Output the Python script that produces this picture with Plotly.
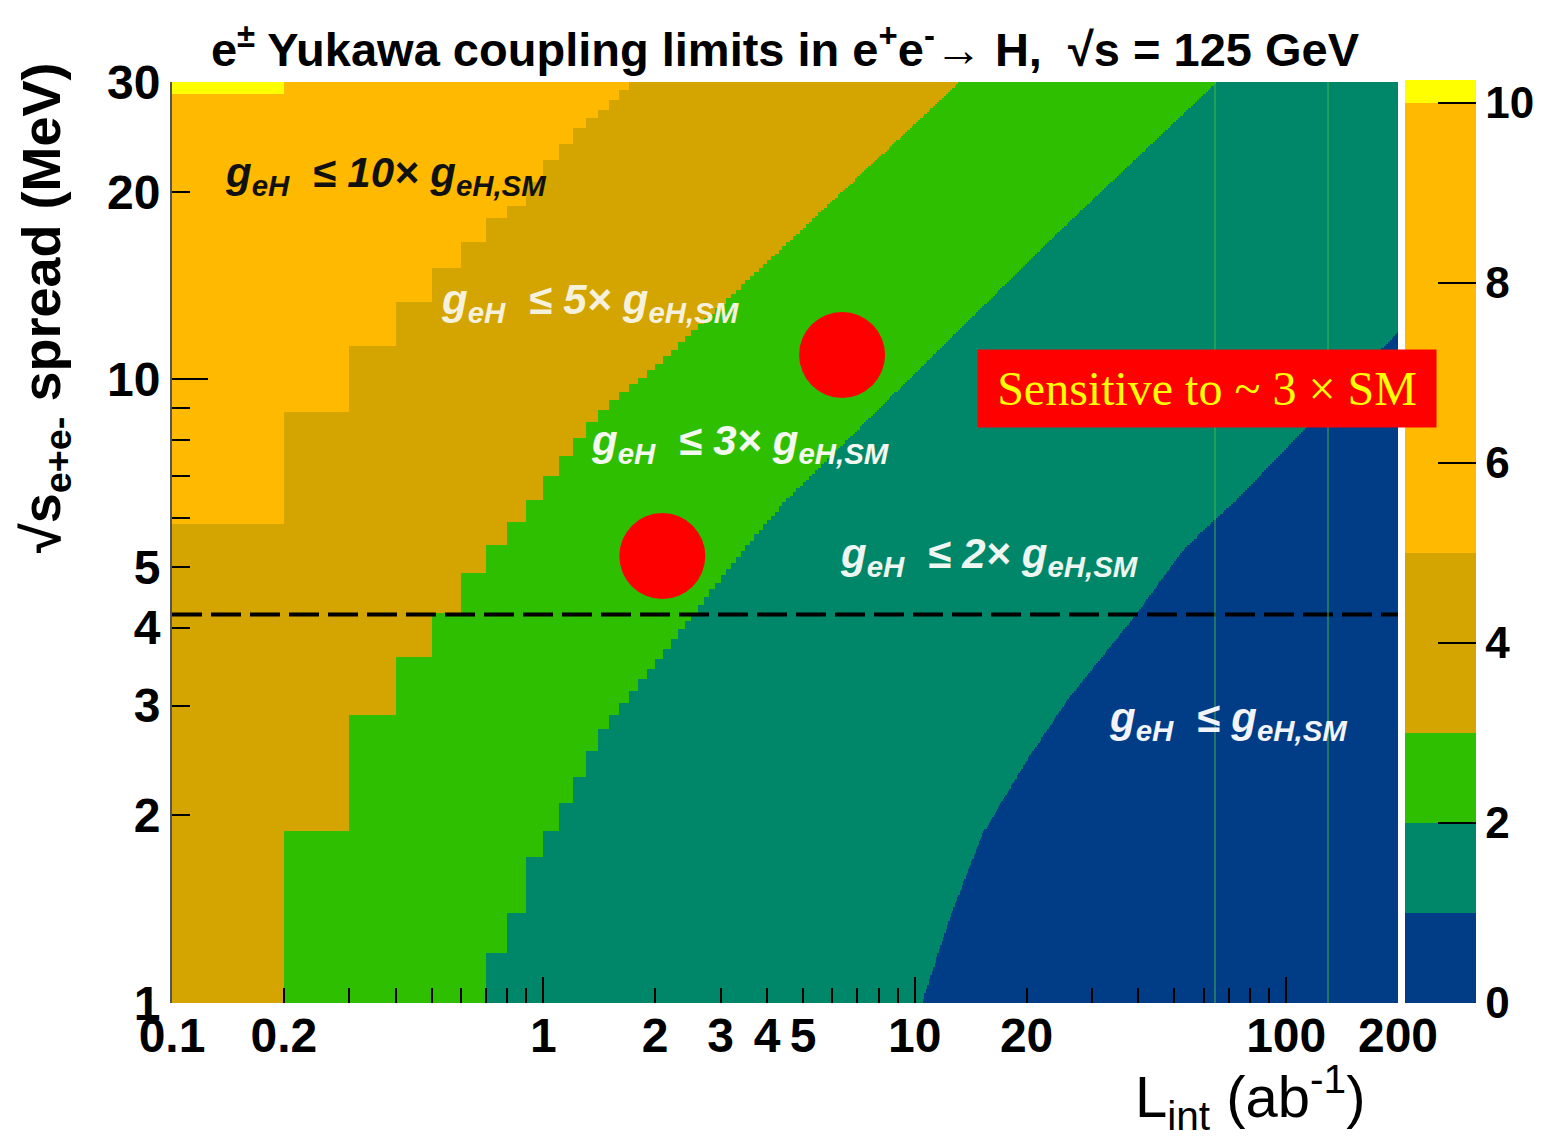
import numpy as np
import plotly.graph_objects as go

# ---------------- data ----------------
# boundary curves (L_int in ab^-1, sqrt(s) spread in MeV) for g_eH / g_eH,SM levels
lev1_L = [10.45, 12.44, 15.26, 20.05, 25.7, 39.6, 52.7, 73.7, 200.0]
lev1_S = [1.0, 1.374, 1.874, 2.454, 3.06, 4.22, 5.33, 6.41, 11.9]

lev2_L = [0.75, 0.85, 0.95, 1.05, 1.15, 1.25, 1.42, 2.06, 3.45, 4.53, 23.1, 31.5, 65.1]
lev2_S = [1.20, 1.39, 1.71, 1.895, 2.10, 2.30, 2.71, 3.59, 5.33, 6.41, 16.7, 19.9, 30.0]

lev3_L = [0.25, 0.35, 0.45, 0.55, 0.65, 0.75, 0.85, 0.95, 1.2, 1.42, 2.06, 13.2]
lev3_S = [1.895, 2.897, 3.59, 4.22, 4.91, 5.43, 5.91, 6.41, 7.79, 8.84, 10.63, 30.0]

lev5_L = [0.15, 0.25, 0.35, 0.45, 0.55, 0.65, 0.75, 0.85, 1.0, 1.255, 1.42, 1.75, 1.85]
lev5_S = [5.84, 8.87, 11.28, 13.3, 15.1, 16.6, 18.2, 18.9, 21.7, 25.4, 26.8, 30.0, 31.5]

lev10_L = [0.15, 0.2]
lev10_S = [28.8, 40.0]

region_values = [0.5, 1.5, 2.5, 4.0, 7.5, 10.1]   # value shown in each band
band_edges = [0, 1, 2, 3, 5, 10, 10.25]
band_colors = ["#003d86", "#00876a", "#2ebf00", "#d4a500", "#ffba00", "#ffff00"]

beam_spread_line = 4.2          # MeV, dashed line
red_dots_L = [6.37, 2.09]
red_dots_S = [10.95, 5.21]
seam_L = [64.3, 129.6]

x_tickvals = [0.1, 0.2, 1, 2, 3, 4, 5, 10, 20, 100, 200]
x_ticktext = ["0.1", "0.2", "1", "2", "3", "4", "5", "10", "20", "100", "200"]
x_minor = [0.3, 0.4, 0.5, 0.6, 0.7, 0.8, 0.9, 6, 7, 8, 9, 30, 40, 50, 60, 70, 80, 90]
x_major_long = [1, 10, 100]
y_tickvals = [1, 2, 3, 4, 5, 10, 20, 30]
y_ticktext = ["1", "2", "3", "4", "5", "10", "20", "30"]
y_minor = [6, 7, 8, 9]
y_major_long = [10]
cb_ticks = [0, 2, 4, 6, 8, 10]

# ---------------- grid ----------------
L_edges = np.concatenate([np.arange(1, 200) * 0.1, np.logspace(np.log10(20), np.log10(200), 401)])
Lc = 0.5 * (L_edges[:-1] + L_edges[1:])
S_edges = np.logspace(0, np.log10(30), 461)
Sc = np.sqrt(S_edges[:-1] * S_edges[1:])


def boundary(Ls, Ss):
    return 10 ** np.interp(np.log10(Lc), np.log10(Ls), np.log10(Ss), left=-np.inf, right=np.inf)


B = [boundary(lev1_L, lev1_S), boundary(lev2_L, lev2_S), boundary(lev3_L, lev3_S),
     boundary(lev5_L, lev5_S), boundary(lev10_L, lev10_S)]
SS = Sc[:, None]
conds = [SS < b[None, :] for b in B]
z = np.select(conds, region_values[:5], default=region_values[5])

zmax = band_edges[-1]
cscale = []
for i, c in enumerate(band_colors):
    cscale.append([band_edges[i] / zmax, c])
    cscale.append([band_edges[i + 1] / zmax, c])

FONT = "Liberation Sans, Arial, Helvetica, sans-serif"

fig = go.Figure()
fig.add_trace(go.Heatmap(
    x=L_edges, y=S_edges, z=z, zmin=0, zmax=zmax, colorscale=cscale, zsmooth=False,
    hoverinfo="skip",
    colorbar=dict(
        thickness=71, lenmode="pixels", len=923, x=1.0057, xanchor="left", xpad=0,
        y=0, yanchor="bottom", ypad=0, outlinewidth=0,
        tickvals=cb_ticks, ticktext=[str(t) for t in cb_ticks],
        ticks="inside", ticklen=38, tickwidth=2, tickcolor="black",
        tickfont=dict(family=FONT, size=44, color="black", weight="bold"),
    ),
))

# seams (faint vertical lines)
for xl in seam_L:
    fig.add_trace(go.Scatter(x=[xl, xl], y=[1, 30], mode="lines", xaxis="x2", yaxis="y2",
                             line=dict(color="rgba(70,190,70,0.45)", width=2),
                             hoverinfo="skip", showlegend=False))

# dashed line
fig.add_trace(go.Scatter(x=[x_tickvals[0], x_tickvals[-1]], y=[beam_spread_line] * 2, mode="lines",
                         line=dict(color="black", width=4, dash="30px,9px"),
                         hoverinfo="skip", showlegend=False))

# red dots
fig.add_trace(go.Scatter(x=red_dots_L, y=red_dots_S, mode="markers",
                         marker=dict(color="#ff0000", size=86, line=dict(width=0)),
                         hoverinfo="skip", showlegend=False))

# page body has an 8px margin: figure is 1536x1138 starting at (8, 8)
W, H = 1536, 1138
tickfont_y = dict(family=FONT, size=48, color="black", weight="bold")
tickfont_x = dict(family=FONT, size=48, color="black", weight="bold")
fig.update_layout(
    width=W, height=H,
    margin=dict(l=164, r=146, t=74, b=143, autoexpand=False),
    paper_bgcolor="white", plot_bgcolor="white",
    showlegend=False,
    title=dict(text="<b>e<sup>±</sup> Yukawa coupling limits in e<sup>+</sup>e<sup>-</sup>→ H,  √s = 125 GeV</b>",
               x=0.5, xref="paper", xanchor="center", y=1 - 42 / H, yref="container", yanchor="middle",
               font=dict(family=FONT, size=47, color="black")),
    xaxis=dict(type="log", range=[-1, np.log10(200)], tickvals=x_tickvals, ticktext=x_ticktext,
               ticks="inside", ticklen=15, tickwidth=2, tickcolor="black", tickfont=tickfont_x,
               minor=dict(tickvals=x_minor, ticks="inside", ticklen=15, tickwidth=2, tickcolor="black"),
               showgrid=False, zeroline=False, showline=False),
    xaxis2=dict(type="log", range=[-1, np.log10(200)], overlaying="x", anchor="y", side="bottom",
                tickvals=x_major_long, ticks="inside", ticklen=26, tickwidth=2, tickcolor="black",
                showticklabels=False, showgrid=False, zeroline=False, showline=False),
    yaxis=dict(type="log", range=[0, np.log10(30)], tickvals=y_tickvals, ticktext=y_ticktext,
               ticks="inside", ticklen=18, tickwidth=2, tickcolor="black", tickfont=tickfont_y,
               minor=dict(tickvals=y_minor, ticks="inside", ticklen=18, tickwidth=2, tickcolor="black"),
               showgrid=False, zeroline=False, showline=True, linecolor="#555", linewidth=2),
    yaxis2=dict(type="log", range=[0, np.log10(30)], overlaying="y", anchor="x", side="left",
                tickvals=y_major_long, ticks="inside", ticklen=36, tickwidth=2, tickcolor="black",
                showticklabels=False, showgrid=False, zeroline=False, showline=False),
)

def px(xp, yp):
    return (xp - 172) / 1226, (1003 - yp) / 921

labels = [
    ("<b><i>g<sub>eH</sub>  ≤ 10× g<sub>eH,SM</sub></i></b>", 385, 175, "#111111"),
    ("<b><i>g<sub>eH</sub>  ≤ 5× g<sub>eH,SM</sub></i></b>", 590, 302, "#f6f1dc"),
    ("<b><i>g<sub>eH</sub>  ≤ 3× g<sub>eH,SM</sub></i></b>", 740, 444, "#f4f8ee"),
    ("<b><i>g<sub>eH</sub>  ≤ 2× g<sub>eH,SM</sub></i></b>", 989, 556, "#eef6f2"),
    ("<b><i>g<sub>eH</sub>  ≤ g<sub>eH,SM</sub></i></b>", 1228, 720, "#f2f4fa"),
]
for txt, xp, yp, col in labels:
    ax_, ay_ = px(xp, yp)
    fig.add_annotation(text=txt, x=ax_, y=ay_, xref="paper", yref="paper", showarrow=False,
                       xanchor="center", yanchor="middle",
                       font=dict(family=FONT, size=42, color=col))

bx, by = px(1207, 388.5)
fig.add_annotation(text="Sensitive to ~ 3 × SM", x=bx, y=by, xref="paper", yref="paper",
                   showarrow=False, xanchor="center", yanchor="middle", width=458, height=77,
                   bgcolor="#ff0000", borderpad=0,
                   font=dict(family="Liberation Serif, Times New Roman, serif", size=48, color="#ffff00"))

yx, yy = px(45, 308)
fig.add_annotation(text="<b>√s<sub>e+e-</sub> spread (MeV)</b>", x=yx, y=yy, xref="paper", yref="paper",
                   showarrow=False, textangle=-90, xanchor="center", yanchor="middle",
                   font=dict(family=FONT, size=54, color="black"))

xx, xy = px(1250, 1097)
fig.add_annotation(text="L<sub>int</sub> (ab<sup>-1</sup>)", x=xx, y=xy, xref="paper", yref="paper",
                   showarrow=False, xanchor="center", yanchor="middle",
                   font=dict(family=FONT, size=58, color="black"))

fig.write_html("out.html")
